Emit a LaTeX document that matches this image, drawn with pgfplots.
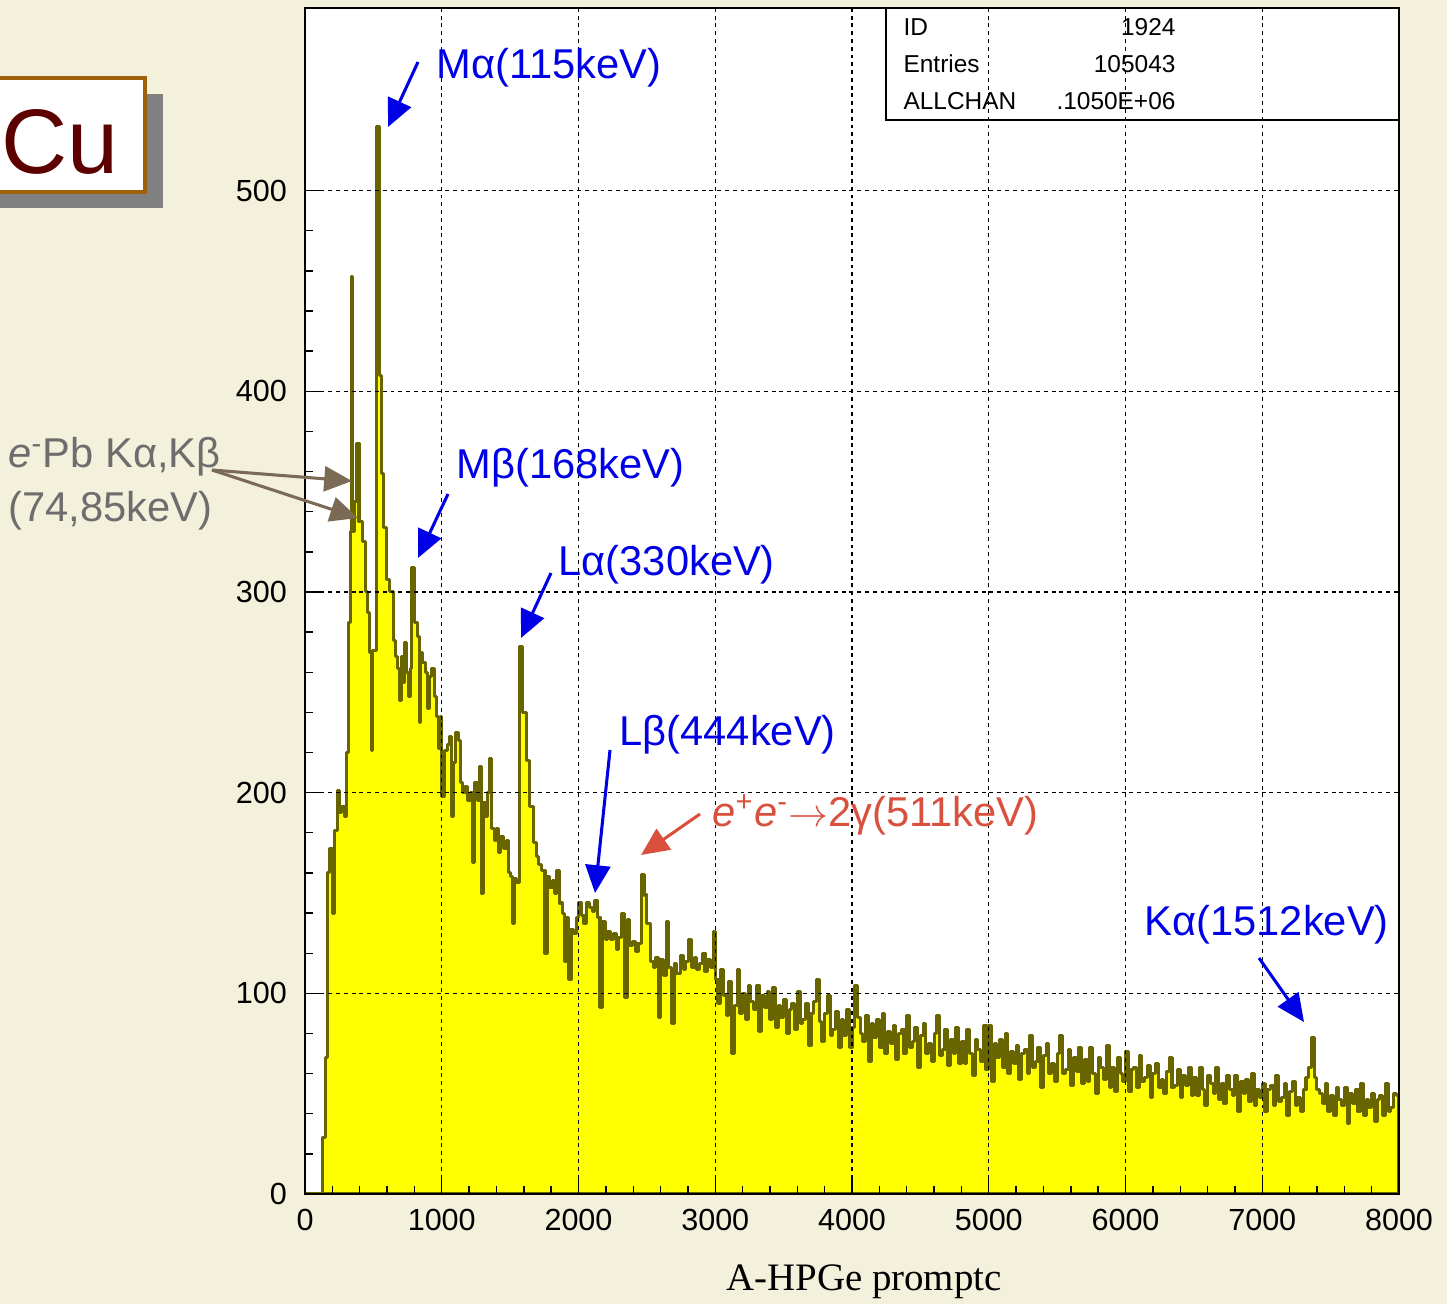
\documentclass[border=0pt]{standalone}
\usepackage{pgfplots}
\pgfplotsset{compat=1.18}
\usepackage{pgfplotstable}
\usepackage{fontspec}
\setmainfont{Liberation Sans}
\newfontfamily\serifface{Liberation Serif}
\usetikzlibrary{arrows.meta}

\definecolor{bg}{HTML}{F3F0DC}
\definecolor{histfill}{HTML}{FFFF00}
\definecolor{histline}{HTML}{686500}
\definecolor{labblue}{HTML}{0000E6}
\definecolor{labred}{HTML}{D9503F}
\definecolor{labgray}{HTML}{6D6D6D}
\definecolor{arrgray}{HTML}{7B6A55}
\definecolor{cuborder}{HTML}{A0600A}
\definecolor{cutext}{HTML}{5C0000}
\definecolor{shadowgray}{HTML}{808080}

% HPGe prompt spectrum: lower bin edge, counts
\pgfplotstableread{
x y
0 0
130 28
150 68
165 160
180 172
200 140
215 181
235 201
250 190
270 193
290 188
305 220
320 285
335 330
342 457
348 330
365 345
378 374
395 335
420 325
440 300
455 290
470 270
485 221
495 271
524 532
548 408
560 359
575 332
597 306
620 300
646 276
660 268
675 262
690 246
705 268
720 255
731 275
745 260
760 248
770 262
780 312
804 285
820 278
835 235
845 270
860 265
878 260
895 242
910 258
926 262
945 248
960 238
975 222
990 238
1000 198
1020 221
1040 224
1055 228
1070 188
1085 215
1100 230
1120 226
1135 205
1150 200
1170 203
1190 196
1210 200
1225 165
1240 205
1260 196
1275 213
1290 150
1305 195
1320 188
1335 200
1350 217
1365 182
1385 176
1400 182
1415 170
1430 178
1450 172
1470 176
1490 160
1505 158
1520 135
1535 157
1550 155
1567 273
1592 240
1621 216
1645 193
1670 175
1690 168
1710 164
1730 161
1755 120
1770 158
1790 153
1810 156
1825 150
1840 161
1860 145
1880 140
1895 116
1913 138
1930 107
1945 132
1965 130
1985 138
2000 145
2020 139
2040 135
2060 145
2080 143
2100 141
2120 146
2140 138
2157 93
2175 136
2195 127
2215 131
2235 127
2255 130
2275 122
2295 128
2315 140
2335 98
2355 137
2375 124
2395 126
2415 121
2435 125
2462 159
2480 149
2500 135
2523 116
2545 113
2565 118
2585 88
2600 117
2620 109
2640 136
2660 113
2680 85
2700 115
2720 110
2743 119
2765 112
2785 116
2805 127
2825 113
2845 118
2865 112
2885 115
2905 120
2925 111
2945 117
2965 113
2986 131
3000 107
3020 95
3040 112
3060 99
3080 89
3100 106
3120 70
3140 94
3160 112
3180 90
3200 100
3220 87
3240 104
3260 96
3280 92
3300 104
3320 81
3340 99
3360 93
3380 101
3400 87
3420 103
3440 83
3460 94
3480 88
3500 97
3520 80
3540 92
3560 95
3580 82
3600 101
3620 85
3640 87
3660 95
3680 74
3700 90
3720 96
3740 107
3760 86
3780 76
3800 90
3820 99
3840 79
3860 82
3880 91
3900 73
3920 87
3940 79
3960 92
3980 73
4000 83
4020 104
4040 88
4060 80
4080 76
4100 89
4120 66
4140 85
4160 78
4180 87
4200 73
4220 90
4240 70
4260 81
4280 75
4300 84
4320 67
4340 80
4360 82
4380 70
4400 89
4420 73
4440 76
4460 83
4480 63
4500 79
4520 85
4540 70
4560 75
4580 66
4600 80
4620 89
4640 69
4660 72
4680 82
4700 64
4720 77
4740 70
4760 83
4780 65
4800 76
4820 65
4840 82
4860 70
4880 59
4900 77
4920 72
4940 66
4960 84
4980 62
5000 84
5020 56
5040 75
5060 68
5080 77
5100 63
5120 80
5140 60
5160 71
5180 65
5200 74
5220 57
5240 70
5260 72
5280 60
5300 79
5320 63
5340 66
5360 73
5380 53
5400 69
5420 75
5440 60
5460 65
5480 56
5500 70
5520 79
5540 60
5560 62
5580 72
5600 54
5620 68
5640 61
5660 73
5680 55
5700 67
5720 56
5740 73
5760 60
5780 50
5800 68
5820 63
5840 57
5860 74
5880 53
5900 63
5920 51
5940 68
5960 60
5980 56
6000 71
6020 51
6040 62
6060 63
6080 53
6100 69
6120 56
6140 58
6160 64
6180 48
6200 60
6220 65
6240 53
6260 57
6280 50
6300 61
6320 68
6340 53
6360 54
6380 62
6400 48
6420 59
6440 54
6460 63
6480 49
6500 58
6520 49
6540 63
6560 52
6580 44
6600 59
6620 55
6640 50
6660 63
6680 47
6700 55
6720 45
6740 59
6760 52
6780 49
6800 59
6820 41
6840 56
6860 50
6880 57
6900 46
6920 60
6940 44
6960 52
6980 48
7000 55
7020 41
7040 52
7060 54
7080 44
7100 59
7120 46
7140 48
7160 55
7180 39
7200 51
7220 56
7240 44
7260 48
7280 41
7300 52
7320 58
7340 63
7360 78
7380 58
7400 52
7420 50
7440 45
7460 55
7480 41
7500 49
7520 39
7540 53
7560 47
7580 44
7600 53
7620 35
7640 50
7660 45
7680 52
7700 41
7720 55
7740 39
7760 47
7780 43
7800 50
7820 36
7840 47
7860 49
7880 39
7900 55
7920 41
7940 43
7960 50
7980 49
8000 49
}\spectrum

\begin{document}
\begin{tikzpicture}
\fill[bg] (0pt,0pt) rectangle (520.92pt,469.44pt);

\begin{scope}[overlay]
\begin{axis}[
  at={(109.8pt,39.6pt)}, anchor=south west,
  scale only axis, width=393.84pt, height=426.96pt,
  xmin=0, xmax=8000, ymin=0, ymax=591,
  xtick={0,1000,...,8000}, ytick={0,100,...,500},
  minor x tick num=4, minor y tick num=4,
  tick pos=left, tick align=inside,
  major tick length=6.5pt, minor tick length=3pt,
  tick style={black, line width=0.5pt},
  axis background/.style={fill=white},
  axis line style={black, line width=0.6pt},
  axis on top,
  grid=major,
  grid style={black, line width=0.4pt, dash pattern=on 1.4pt off 1.4pt},
  /pgf/number format/assume math mode=true,
  /pgf/number format/set thousands separator={},
  every tick label/.append style={font=\fontsize{11}{13}\selectfont},
  yticklabel style={xshift=-3pt},
  xticklabel style={yshift=-2pt},
]
\addplot[const plot, fill=histfill, draw=histline, line width=1.1pt, line join=round]
  table[x=x, y=y] {\spectrum} \closedcycle;
\end{axis}
\end{scope}

\begin{scope}[x=0.36pt,y=0.36pt]
% statistics box
\draw[black, line width=0.6pt] (886,1184) rectangle (1399,1296);
\begin{scope}[every node/.style={inner sep=0pt, font=\fontsize{8.8}{10}\selectfont}]
  \node[anchor=west] at (903,1277) {ID};
  \node[anchor=east] at (1176,1277) {1924};
  \node[anchor=west] at (903,1240) {Entries};
  \node[anchor=east] at (1176,1240) {105043};
  \node[anchor=west] at (903,1203) {ALLCHAN};
  \node[anchor=east] at (1176,1203) {.1050E+06};
\end{scope}

% element tag
\fill[shadowgray] (-5,1096) rectangle (163,1210);
\filldraw[fill=white, draw=cuborder, line width=1.1pt] (-5,1112) rectangle (145,1226);
\node[text=cutext, font=\fontsize{33}{33}\selectfont] at (60,1162) {Cu};

% x axis title
\node[font=\serifface\fontsize{14}{14}\selectfont] at (864,22) {A-HPGe promptc};

% line identifications
\begin{scope}[every node/.style={inner sep=0pt, anchor=west, font=\fontsize{15}{15}\selectfont}]
  \node[text=labblue] at (436,1236) {Mα(115keV)};
  \node[text=labblue] at (456,836) {Mβ(168keV)};
  \node[text=labblue] at (558,739) {Lα(330keV)};
  \node[text=labblue] at (619,569) {Lβ(444keV)};
  \node[text=labred] at (712,489) {\textit{e}\textsuperscript{+}\textit{e}\textsuperscript{-}\ensuremath{\rightarrow}2γ(511keV)};
  \node[text=labblue] at (1144,379) {Kα(1512keV)};
  \node[text=labgray] at (8,847) {\textit{e}\textsuperscript{-}Pb Kα,Kβ};
  \node[text=labgray] at (8,793) {(74,85keV)};
\end{scope}

\begin{scope}[line width=1.1pt, -{Triangle[length=10pt,width=9pt]}]
  \draw[labblue] (418,1242) -- (388,1177);
  \draw[labblue] (448,810) -- (418,746);
  \draw[labblue] (551,731) -- (521,666);
  \draw[labblue] (610,554) -- (595,411);
  \draw[labred] (700,490) -- (641,449);
  \draw[labblue] (1259,346) -- (1304,282);
  \draw[arrgray] (212,834) -- (352,823);
  \draw[arrgray] (212,834) -- (358,786);
\end{scope}
\end{scope}

\pgfresetboundingbox
\path[use as bounding box] (0pt,0pt) rectangle (520.92pt,469.44pt);
\end{tikzpicture}
\end{document}
